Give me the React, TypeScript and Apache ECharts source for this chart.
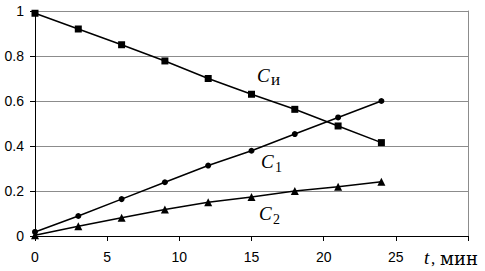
import React, { useEffect, useRef } from "react";
import * as echarts from "echarts";

const times = [0, 3, 6, 9, 12, 15, 18, 21, 24];
const cI = [0.99, 0.92, 0.85, 0.778, 0.70, 0.63, 0.563, 0.489, 0.415];
const c1 = [0.018, 0.089, 0.164, 0.239, 0.313, 0.379, 0.453, 0.527, 0.6];
const c2 = [0.003, 0.043, 0.081, 0.118, 0.15, 0.173, 0.2, 0.219, 0.241];
const yTicks = ["0", "0.2", "0.4", "0.6", "0.8", "1"];
const xTicks = ["0", "5", "10", "15", "20", "25"];

const serif = "'Liberation Serif', 'DejaVu Serif', serif";
const wideSerif = "'DejaVu Serif', serif";
const sans = "'Liberation Sans', Arial, sans-serif";

export default function App() {
  const ref = useRef<HTMLDivElement>(null);
  useEffect(() => {
    if (!ref.current) return;
    document.body.style.margin = "0";
    const chart = echarts.init(ref.current, null, { renderer: "svg" });
    const pairs = (v: number[]) => times.map((t, i) => [t, v[i]]);
    const line = (name: string, v: number[], symbol: string, size: number) => ({
      name,
      type: "line",
      data: pairs(v),
      symbol,
      symbolSize: size,
      showSymbol: true,
      lineStyle: { color: "#000", width: 1.5 },
      itemStyle: { color: "#000" },
    });
    chart.setOption({
      animation: false,
      backgroundColor: "#fff",
      grid: { left: 35, right: 17, top: 11, bottom: 35 },
      xAxis: {
        type: "value",
        min: 0,
        max: 30,
        interval: 5,
        axisLine: { show: true, lineStyle: { color: "#000", width: 1 } },
        axisTick: { show: true, length: 5, lineStyle: { color: "#000" } },
        splitLine: { show: false },
        axisLabel: {
          margin: 14,
          fontSize: 14,
          fontFamily: sans,
          color: "#000",
          formatter: (v: number) => {
            const i = xTicks.indexOf(String(v));
            return i >= 0 ? xTicks[i] : "";
          },
        },
      },
      yAxis: [
        {
          type: "value",
          min: 0,
          max: 1,
          interval: 0.2,
          axisLine: { show: true, lineStyle: { color: "#000", width: 1 } },
          axisTick: { show: true, length: 5, lineStyle: { color: "#000" } },
          splitLine: { show: true, lineStyle: { color: "#8c8c8c", width: 1 } },
          axisLabel: {
            margin: 11,
            fontSize: 14,
            fontFamily: sans,
            color: "#000",
            formatter: (v: number) => yTicks[Math.round(v / 0.2)],
          },
        },
        {
          type: "value",
          min: 0,
          max: 1,
          position: "right",
          axisLine: { show: true, lineStyle: { color: "#8c8c8c", width: 1 } },
          axisTick: { show: false },
          axisLabel: { show: false },
          splitLine: { show: false },
        },
      ],
      series: [
        line("Cи", cI, "rect", 7),
        line("C1", c1, "circle", 6),
        line("C2", c2, "triangle", 8),
      ],
      graphic: [
        { type: "text", left: 257, top: 66, style: { text: "C", font: `italic 19px ${serif}`, fill: "#000" } },
        { type: "text", left: 271, top: 71, style: { text: "и", font: `17px ${serif}`, fill: "#000" } },
        { type: "text", left: 261, top: 152, style: { text: "C", font: `italic 19px ${serif}`, fill: "#000" } },
        { type: "text", left: 275, top: 160, style: { text: "1", font: `14px ${serif}`, fill: "#000" } },
        { type: "text", left: 259, top: 204, style: { text: "C", font: `italic 19px ${serif}`, fill: "#000" } },
        { type: "text", left: 273, top: 212, style: { text: "2", font: `14px ${serif}`, fill: "#000" } },
        { type: "text", left: 424, top: 248, style: { text: "t", font: `italic 19px ${serif}`, fill: "#000" } },
        { type: "text", left: 431, top: 250, style: { text: ",", font: `17px ${serif}`, fill: "#000" } },
        { type: "text", left: 440, top: 249, style: { text: "мин", font: `18px ${wideSerif}`, fill: "#000" } },
      ],
    });
    return () => chart.dispose();
  }, []);
  return (
    <div
      ref={ref}
      style={{ position: "absolute", left: 0, top: 0, width: 485, height: 271 }}
    />
  );
}
